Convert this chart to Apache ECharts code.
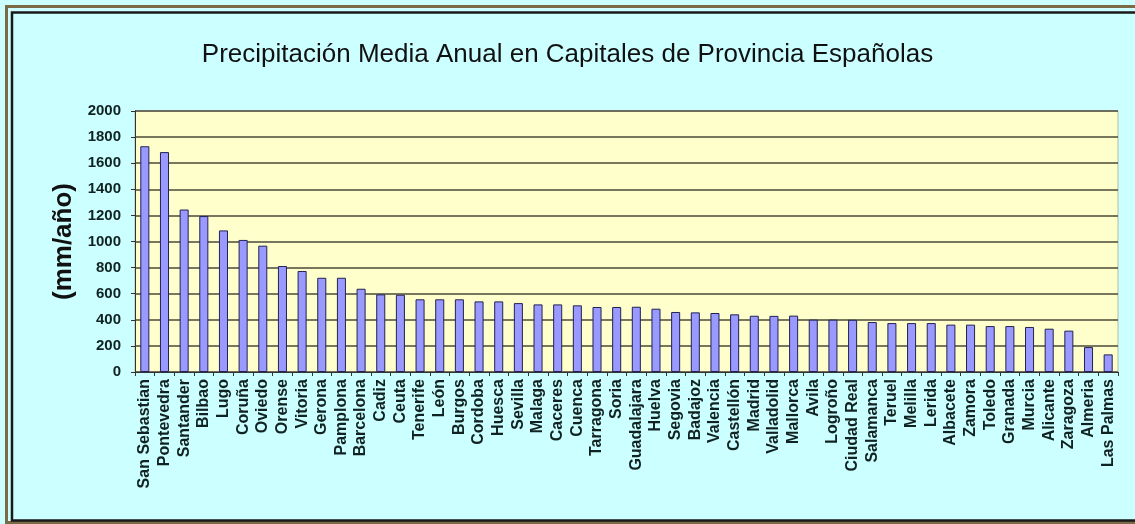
<!DOCTYPE html>
<html>
<head>
<meta charset="utf-8">
<script src="https://cdn.jsdelivr.net/npm/echarts@6/dist/echarts.min.js"></script>
<style>
html,body{margin:0;padding:0;background:#ffffff;overflow:hidden;}
#chart{width:1135px;height:524px;}
</style>
</head>
<body>
<div id="chart"></div>
<script>
var titleText = 'Precipitación Media Anual en Capitales de Provincia Españolas';
var yAxisName = '(mm/año)';
var cities = ['San Sebastian','Pontevedra','Santander','Bilbao','Lugo','Coruña','Oviedo','Orense','Vitoria','Gerona',
  'Pamplona','Barcelona','Cadiz','Ceuta','Tenerife','León','Burgos','Cordoba','Huesca','Sevilla',
  'Malaga','Caceres','Cuenca','Tarragona','Soria','Guadalajara','Huelva','Segovia','Badajoz','Valencia',
  'Castellón','Madrid','Valladolid','Mallorca','Avila','Logroño','Ciudad Real','Salamanca','Teruel','Melilla',
  'Lerida','Albacete','Zamora','Toledo','Granada','Murcia','Alicante','Zaragoza','Almeria','Las Palmas'];
var precip = [1730,1685,1245,1195,1085,1012,968,812,774,722,
  722,638,595,592,557,557,557,541,541,528,
  518,518,511,498,498,500,485,460,457,452,
  442,431,430,432,401,401,400,383,375,375,
  375,363,363,352,352,345,332,317,191,135];
var yMin = 0, yMax = 2000, yStep = 200;

var chart = echarts.init(document.getElementById('chart'));
chart.setOption({
  backgroundColor: '#ccffff',
  animation: false,
  title: {
    text: titleText,
    left: 'center',
    top: 37,
    textStyle: {fontFamily: 'Liberation Sans, Arial', fontSize: 26, fontWeight: 'normal', color: '#111'}
  },
  grid: {left: 135, right: 17, top: 111, bottom: 152, show: true, backgroundColor: '#ffffcc', borderColor: '#b8b8a0', borderWidth: 1},
  xAxis: {
    type: 'category',
    data: cities,
    axisLine: {lineStyle: {color: '#333', width: 1}},
    axisTick: {show: true, length: 4, lineStyle: {color: '#333'}},
    axisLabel: {interval: 0, rotate: 90, margin: 7, fontFamily: 'Liberation Sans, Arial', fontSize: 16, fontWeight: 'bold', color: '#112222'}
  },
  yAxis: {
    type: 'value',
    min: yMin, max: yMax, interval: yStep,
    name: yAxisName,
    nameLocation: 'middle',
    nameGap: 58,
    nameTextStyle: {fontFamily: 'Liberation Sans, Arial', fontSize: 26, fontWeight: 'bold', color: '#111'},
    axisLine: {show: true, lineStyle: {color: '#333', width: 1}},
    axisTick: {show: true, length: 4, lineStyle: {color: '#333'}},
    axisLabel: {margin: 14, formatter: function (v) { return String(v); }, fontFamily: 'Liberation Sans, Arial', fontSize: 15, fontWeight: 'bold', color: '#112222'},
    splitLine: {lineStyle: {color: '#4a4a3a', width: 1.5}}
  },
  series: [{
    type: 'bar',
    data: precip,
    barWidth: '46%',
    itemStyle: {color: '#9999ff', borderColor: '#222255', borderWidth: 1}
  }],
  graphic: [
    {type: 'rect', silent: true, z: 100, shape: {x: 6.5, y: 6.5, width: 2000, height: 516}, style: {fill: 'none', stroke: '#7a6a45', lineWidth: 3}},
    {type: 'rect', silent: true, z: 100, shape: {x: 12, y: 12.5, width: 2000, height: 508}, style: {fill: 'none', stroke: '#1a1a1a', lineWidth: 2.5}}
  ]
});
</script>
</body>
</html>
